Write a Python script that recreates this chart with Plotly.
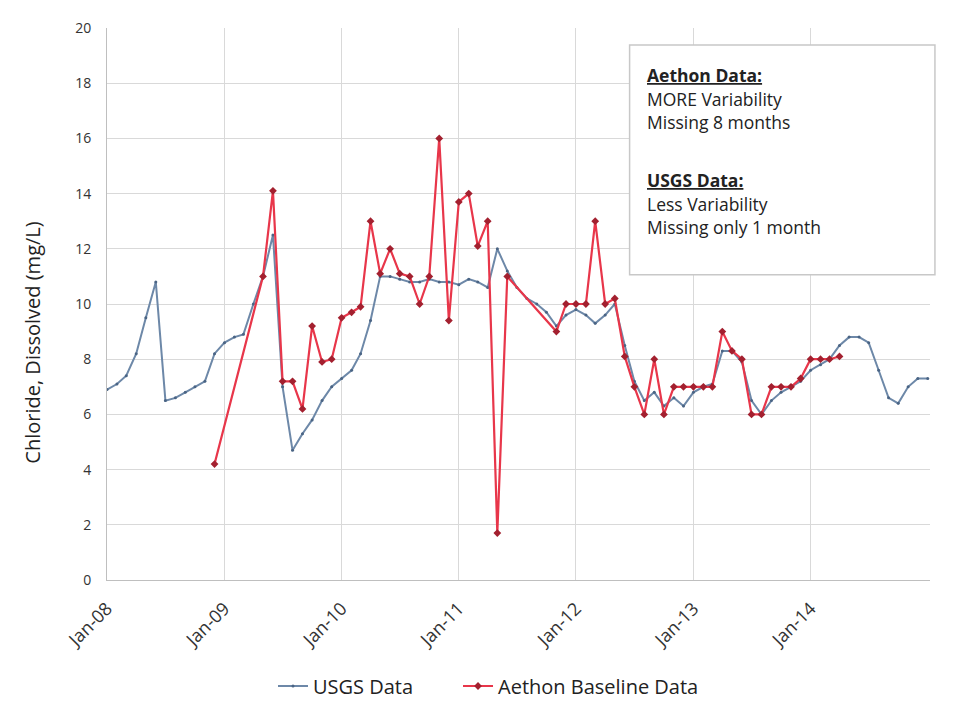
import plotly.graph_objects as go
import pandas as pd

# ---- data (monthly) ----
usgs_months = list(range(0, 85))
usgs_values = [6.9, 7.1, 7.4, 8.2, 9.5, 10.8, 6.5, 6.6, 6.8, 7.0, 7.2, 8.2,
               8.6, 8.8, 8.9, 10.0, 11.0, 12.5, 7.0, 4.7, 5.3, 5.8, 6.5, 7.0,
               7.3, 7.6, 8.2, 9.4, 11.0, 11.0, 10.9, 10.8, 10.8, 10.9, 10.8, 10.8,
               10.7, 10.9, 10.8, 10.6, 12.0, 11.2, 10.6, 10.2, 10.0, 9.7, 9.2, 9.6,
               9.8, 9.6, 9.3, 9.6, 10.0, 8.5, 7.2, 6.5, 6.8, 6.3, 6.6, 6.3,
               6.8, 7.0, 7.1, 8.3, 8.3, 7.9, 6.5, 6.0, 6.5, 6.8, 7.0, 7.2,
               7.6, 7.8, 8.0, 8.5, 8.8, 8.8, 8.6, 7.6, 6.6, 6.4, 7.0, 7.3, 7.3]

aethon_months = [11, 16, 17, 18, 19, 20, 21, 22, 23, 24, 25, 26, 27, 28, 29, 30, 31,
                 32, 33, 34, 35, 36, 37, 38, 39, 40, 41, 46, 47, 48, 49, 50, 51, 52,
                 53, 54, 55, 56, 57, 58, 59, 60, 61, 62, 63, 64, 65, 66, 67, 68, 69,
                 70, 71, 72, 73, 74, 75]
aethon_values = [4.2, 11.0, 14.1, 7.2, 7.2, 6.2, 9.2, 7.9, 8.0, 9.5, 9.7, 9.9, 13.0,
                 11.1, 12.0, 11.1, 11.0, 10.0, 11.0, 16.0, 9.4, 13.7, 14.0, 12.1, 13.0,
                 1.7, 11.0, 9.0, 10.0, 10.0, 10.0, 13.0, 10.0, 10.2, 8.1, 7.0, 6.0,
                 8.0, 6.0, 7.0, 7.0, 7.0, 7.0, 7.0, 9.0, 8.3, 8.0, 6.0, 6.0, 7.0,
                 7.0, 7.0, 7.3, 8.0, 8.0, 8.0, 8.1]

start_date = "2008-01-01"
tick_dates = ["2008-01-01", "2009-01-01", "2010-01-01", "2011-01-01",
              "2012-01-01", "2013-01-01", "2014-01-01"]
tick_labels = ["Jan-08", "Jan-09", "Jan-10", "Jan-11", "Jan-12", "Jan-13", "Jan-14"]
y_ticks = list(range(0, 21, 2))

note_lines = ["<b><u>Aethon Data:</u></b>", "MORE Variability", "Missing 8 months",
              "<b><u>USGS Data:</u></b>", "Less Variability", "Missing only 1 month"]


def to_dates(months):
    base = pd.Timestamp(start_date)
    return [base + pd.DateOffset(months=m) for m in months]


fig = go.Figure()
fig.add_trace(go.Scatter(
    x=to_dates(usgs_months), y=usgs_values, name="USGS Data",
    mode="lines+markers", legend="legend",
    line=dict(color="#6d88a8", width=2),
    marker=dict(size=3, color="#4a6484"),
))
fig.add_trace(go.Scatter(
    x=to_dates(aethon_months), y=aethon_values, name="Aethon Baseline Data",
    mode="lines+markers", legend="legend2",
    line=dict(color="#e8364a", width=2.2),
    marker=dict(size=6, symbol="diamond", color="#a3202f"),
))

font_family = "Open Sans, Lato, Arial, sans-serif"

W, H = 940, 699
L, R, T, B = 99, 18, 20, 127
PW, PH = W - L - R, H - T - B

legend_common = dict(orientation="h", xanchor="left", y=-106 / PH, yanchor="middle",
                     font=dict(size=20, color="#222222"), bgcolor="rgba(0,0,0,0)")

fig.update_layout(
    width=W, height=H,
    margin=dict(l=L, r=R, t=T, b=B, autoexpand=False),
    paper_bgcolor="white", plot_bgcolor="white",
    font=dict(family=font_family, color="#333333"),
    showlegend=True,
    legend=dict(x=0.2017, **legend_common),
    legend2=dict(x=0.4265, **legend_common),
    xaxis=dict(
        type="date",
        range=["2008-01-01", "2015-01-08"],
        tickvals=tick_dates, ticktext=tick_labels,
        tickangle=-45, tickfont=dict(size=18, color="#333333"),
        ticklabelstandoff=10,
        showgrid=True, gridcolor="#d9d9d9", gridwidth=1,
        showline=True, linecolor="#bfbfbf", zeroline=False,
        ticks="",
    ),
    yaxis=dict(
        range=[0, 20], tickvals=y_ticks,
        tickfont=dict(size=14, color="#333333"),
        ticklabelstandoff=12,
        showgrid=True, gridcolor="#d9d9d9", gridwidth=1,
        showline=True, linecolor="#bfbfbf", zeroline=False,
    ),
)

# y-axis title
fig.add_annotation(xref="paper", yref="paper", x=(25 - L) / PW, y=0.43,
                   text="Chloride, Dissolved (mg/L)", textangle=-90, showarrow=False,
                   xanchor="center", yanchor="middle",
                   font=dict(size=20, color="#222222", family=font_family))

# note box
fig.add_shape(type="rect", xref="paper", yref="paper",
              x0=0.635, x1=1.006, y0=0.553, y1=0.969,
              line=dict(color="#c8c8c8", width=1.5), fillcolor="white", layer="above")
note_y_px = [75, 99, 122, 180, 204, 227]
for txt, ypx in zip(note_lines, note_y_px):
    fig.add_annotation(xref="paper", yref="paper", x=(645 - 107) / PW,
                       y=(580 - ypx) / PH, text=txt, showarrow=False,
                       xanchor="left", yanchor="middle", align="left",
                       font=dict(size=17.5, color="#222222", family=font_family))

fig.write_html("out.html")
